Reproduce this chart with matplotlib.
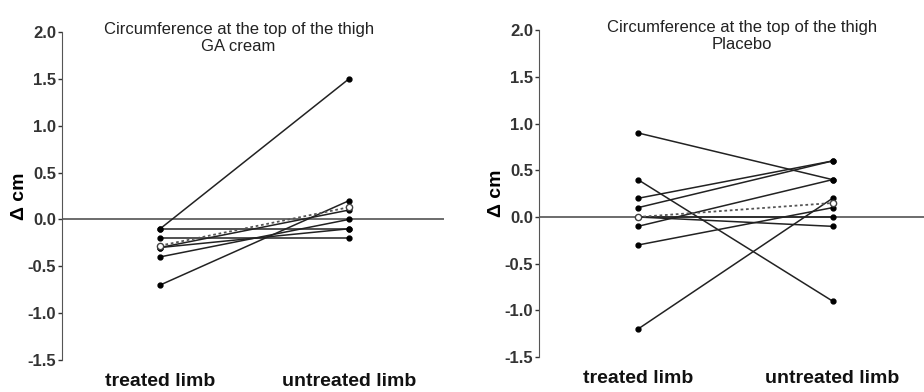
import matplotlib.pyplot as plt

plt.rcParams['font.family'] = ['Liberation Sans', 'DejaVu Sans']

categories = ['treated limb', 'untreated limb']

# GA cream panel: (treated, untreated) per subject
ga_treated = [-0.1, -0.1, -0.2, -0.3, -0.3, -0.4, -0.7]
ga_untreated = [1.5, -0.1, -0.2, 0.1, -0.1, 0.0, 0.2]
ga_mean = [-0.28, 0.13]

# Placebo panel
pl_treated = [0.9, 0.4, 0.2, 0.1, -0.1, 0.0, 0.0, -0.3, -1.2]
pl_untreated = [0.4, -0.9, 0.6, 0.6, 0.4, -0.1, 0.0, 0.1, 0.2]
pl_mean = [0.0, 0.15]

yticks = [-1.5, -1.0, -0.5, 0.0, 0.5, 1.0, 1.5, 2.0]


def draw_panel(ax, treated, untreated, mean, title, xlim, title_x):
    for a, b in zip(treated, untreated):
        ax.plot([0, 1], [a, b], color='#222222', lw=1.1, marker='o', ms=3.5,
                mfc='black', mec='black', zorder=3)
    ax.plot([0, 1], mean, color='#555555', lw=1.3, ls=(0, (1.5, 1.5)), marker='o',
            ms=4.5, mfc='white', mec='#444444', zorder=4)
    ax.axhline(0, color='#444444', lw=1.1, zorder=1)
    ax.set_xlim(*xlim)
    ax.set_ylim(-1.5, 2.0)
    ax.set_yticks(yticks)
    ax.set_yticklabels(['%.1f' % v for v in yticks], fontsize=12, fontweight='bold',
                       color='#333333')
    ax.set_xticks([0, 1])
    ax.set_xticklabels(categories, fontsize=14, fontweight='bold', color='#111111')
    ax.tick_params(axis='x', length=0, pad=9)
    ax.tick_params(axis='y', length=3, width=1, pad=1, colors='#333333')
    for s in ['top', 'right', 'bottom']:
        ax.spines[s].set_visible(False)
    ax.spines['left'].set_color('#555555')
    ax.set_ylabel('Δ cm', fontsize=14, fontweight='bold', labelpad=0)
    ax.text(title_x, 1.03, title, transform=ax.transAxes, ha='center', va='top',
            fontsize=12, color='#222222', linespacing=1.15)


fig = plt.figure(figsize=(9.24, 3.92), dpi=100)
ax1 = fig.add_axes([0.067, 0.0816, 0.413, 0.837])
ax2 = fig.add_axes([0.583, 0.089, 0.417, 0.834])

draw_panel(ax1, ga_treated, ga_untreated, ga_mean,
           'Circumference at the top of the thigh\nGA cream', (-0.52, 1.5), 0.463)
draw_panel(ax2, pl_treated, pl_untreated, pl_mean,
           'Circumference at the top of the thigh\nPlacebo', (-0.51, 1.47), 0.527)

fig.savefig('out.png', dpi=100)
